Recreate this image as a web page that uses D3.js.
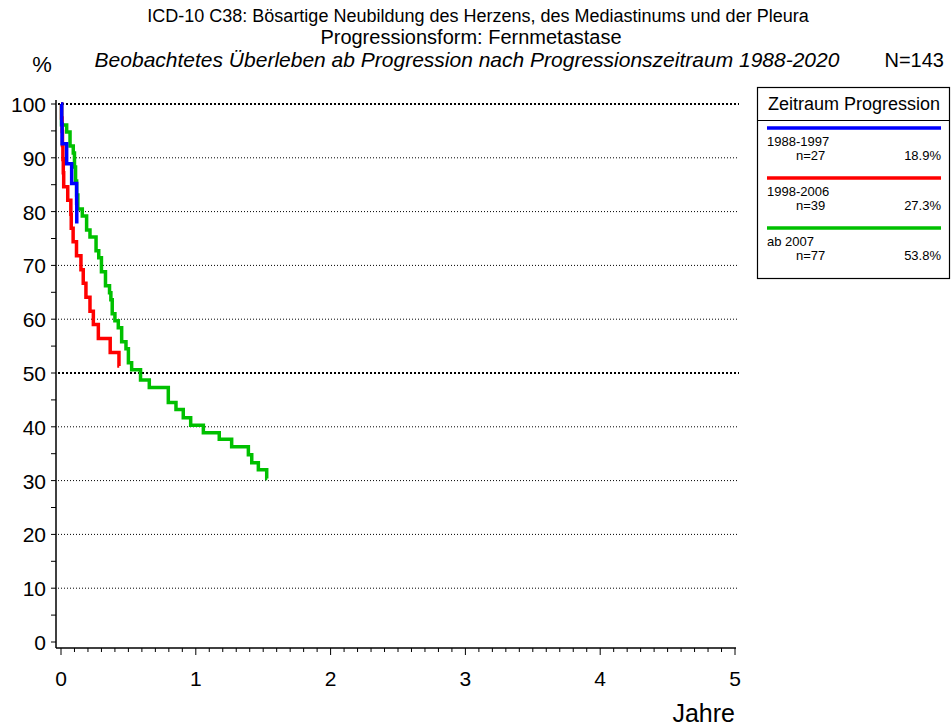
<!DOCTYPE html>
<html>
<head>
<meta charset="utf-8">
<script src="https://cdn.jsdelivr.net/npm/d3@7"></script>
<style>
  body { margin: 0; background: #fff; }
  text { font-family: "Liberation Sans", Arial, sans-serif; fill: #000; }
</style>
</head>
<body>
<svg id="chart" width="951" height="728"></svg>
<script>
// survival steps: [years, percent]
const blueSteps = [[0, 100], [0.005, 96.3], [0.008, 92.6], [0.042, 88.9], [0.079, 85.2], [0.116, 81.5], [0.117, 77.8]];
const redSteps = [[0, 100], [0.004, 97.4], [0.008, 94.9], [0.011, 92.3], [0.014, 89.7], [0.017, 87.2], [0.02, 84.6],
  [0.05, 82.1], [0.073, 79.5], [0.076, 76.9], [0.09, 74.4], [0.115, 71.8], [0.148, 69.2], [0.165, 66.7],
  [0.185, 64.1], [0.215, 61.5], [0.24, 59.0], [0.277, 56.4], [0.365, 53.8], [0.43, 51.3], [0.432, 51.3]];
const greenSteps = [[0, 100], [0.004, 96.1], [0.042, 94.8], [0.067, 92.2], [0.091, 90.9], [0.1, 88.3], [0.108, 85.7],
  [0.116, 83.1], [0.125, 80.5], [0.158, 79.2], [0.19, 76.6], [0.215, 75.3], [0.26, 72.7], [0.28, 71.4],
  [0.30, 68.8], [0.33, 66.2], [0.36, 64.9], [0.37, 63.6], [0.38, 61.0], [0.40, 59.7], [0.425, 58.4],
  [0.45, 55.8], [0.482, 54.5], [0.5, 51.9], [0.524, 50.6], [0.59, 48.7], [0.655, 47.3], [0.796, 44.5],
  [0.853, 43.2], [0.907, 41.7], [0.962, 40.3], [1.056, 38.9], [1.174, 37.7], [1.266, 36.3], [1.39, 34.8],
  [1.415, 33.3], [1.464, 32.0], [1.526, 30.4], [1.53, 30.4]];

const seriesNames = ["1988-1997", "1998-2006", "ab 2007"];
const seriesN = ["n=27", "n=39", "n=77"];
const seriesShare = ["18.9%", "27.3%", "53.8%"];
const colors = ["#0000ff", "#ff0000", "#00c000"];
const xTicks = [0, 1, 2, 3, 4, 5];
const yTicks = [0, 10, 20, 30, 40, 50, 60, 70, 80, 90, 100];

const svg = d3.select("#chart");
const x = d3.scaleLinear().domain([0, 5]).range([61, 735]);
const y = d3.scaleLinear().domain([0, 100]).range([642, 104]);

// titles
svg.append("text").attr("x", 478).attr("y", 22).attr("text-anchor", "middle").style("font-size", "18px")
  .text("ICD-10 C38: Bösartige Neubildung des Herzens, des Mediastinums und der Pleura");
svg.append("text").attr("x", 471).attr("y", 44).attr("text-anchor", "middle").style("font-size", "20px")
  .text("Progressionsform: Fernmetastase");
svg.append("text").attr("x", 467).attr("y", 67).attr("text-anchor", "middle").style("font-size", "21px")
  .style("font-style", "italic").text("Beobachtetes Überleben ab Progression nach Progressionszeitraum 1988-2020");
svg.append("text").attr("x", 944).attr("y", 67).attr("text-anchor", "end").style("font-size", "20px").text("N=143");
svg.append("text").attr("x", 42).attr("y", 72).attr("text-anchor", "middle").style("font-size", "22px").text("%");

// grid
svg.append("g").selectAll("line").data(yTicks.filter(d => d > 0)).join("line")
  .attr("x1", 58).attr("x2", 739).attr("y1", d => y(d)).attr("y2", d => y(d))
  .attr("stroke", "#000")
  .attr("stroke-width", d => (d === 50 || d === 100) ? 2 : 1)
  .attr("stroke-dasharray", d => (d === 50 || d === 100) ? "2,2" : "1,2");

// y axis
const yAxis = svg.append("g").attr("transform", "translate(56,0)");
yAxis.append("line").attr("y1", 100).attr("y2", 648).attr("stroke", "#000").attr("stroke-width", 1.5);
yAxis.selectAll(".t").data(d3.range(0, 101, 5)).join("line")
  .attr("x1", -5).attr("x2", 0).attr("y1", d => y(d)).attr("y2", d => y(d)).attr("stroke", "#000");
yAxis.selectAll("text").data(yTicks).join("text")
  .attr("x", -10).attr("y", d => y(d) + 8).attr("text-anchor", "end").style("font-size", "21px").text(d => d);

// x axis
const xAxis = svg.append("g").attr("transform", "translate(0,648)");
xAxis.append("line").attr("x1", 56).attr("x2", 736).attr("stroke", "#000").attr("stroke-width", 1.5);
xAxis.selectAll(".t").data(d3.range(0, 51)).join("line")
  .attr("x1", d => x(d / 10)).attr("x2", d => x(d / 10))
  .attr("y1", 0).attr("y2", d => d % 10 === 0 ? 7 : 4).attr("stroke", "#000");
xAxis.selectAll("text").data(xTicks).join("text")
  .attr("x", d => x(d)).attr("y", 38).attr("text-anchor", "middle").style("font-size", "21px").text(d => d);
svg.append("text").attr("x", 735).attr("y", 722).attr("text-anchor", "end").style("font-size", "25px").text("Jahre");

// curves
const line = d3.line().x(d => x(d[0])).y(d => y(d[1])).curve(d3.curveStepAfter);
[greenSteps, redSteps, blueSteps].forEach((s, i) => {
  svg.append("path").attr("d", line(s)).attr("fill", "none")
    .attr("stroke", colors[2 - i]).attr("stroke-width", 3.5);
});

// legend
const lg = svg.append("g");
lg.append("rect").attr("x", 757.5).attr("y", 87.5).attr("width", 192).attr("height", 191)
  .attr("fill", "#fff").attr("stroke", "#000").attr("stroke-width", 1.2);
lg.append("line").attr("x1", 757).attr("x2", 950).attr("y1", 120.5).attr("y2", 120.5).attr("stroke", "#000");
lg.append("text").attr("x", 854).attr("y", 110).attr("text-anchor", "middle").style("font-size", "18px")
  .text("Zeitraum Progression");
seriesNames.forEach((name, i) => {
  const y0 = 128 + i * 50;
  lg.append("text").attr("x", 767).attr("y", y0 + 18).style("font-size", "13px").text(name);
  lg.append("text").attr("x", 796).attr("y", y0 + 32).style("font-size", "13px").text(seriesN[i]);
  lg.append("text").attr("x", 941).attr("y", y0 + 32).attr("text-anchor", "end").style("font-size", "13px").text(seriesShare[i]);
  lg.append("line").attr("x1", 767).attr("x2", 941).attr("y1", y0).attr("y2", y0)
    .attr("stroke", colors[i]).attr("stroke-width", 3.5);
});
</script>
</body>
</html>
